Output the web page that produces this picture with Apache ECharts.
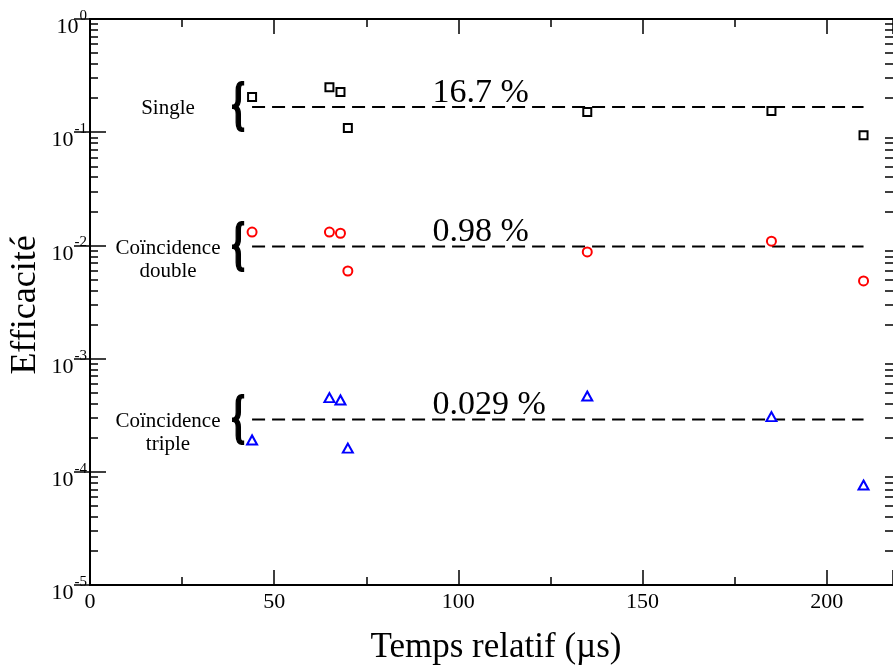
<!DOCTYPE html>
<html>
<head>
<meta charset="utf-8">
<script src="https://cdn.jsdelivr.net/npm/echarts@6/dist/echarts.min.js"></script>
<style>html,body{margin:0;padding:0;background:#fff;}#c{width:893px;height:670px;}</style>
</head>
<body>
<div id="c"></div>
<script>
const times = [44, 65, 68, 70, 135, 185, 210];
const single = [0.205, 0.25, 0.226, 0.109, 0.151, 0.154, 0.094];
const double = [0.0131, 0.0131, 0.0128, 0.00594, 0.00875, 0.0109, 0.00485];
const triple = [1.91e-4, 4.52e-4, 4.31e-4, 1.62e-4, 4.67e-4, 3.07e-4, 7.64e-5];
const means = [0.167, 0.0098, 0.00029];
const meanLabels = ['16.7 %', '0.98 %', '0.029 %'];
const meanRange = [44, 210];
const groupLabels = ['Single', 'Coïncidence\ndouble', 'Coïncidence\ntriple'];
const xTicks = [0, 50, 100, 150, 200];
const minorY = [];
for (let e = -5; e < 0; e++) for (let m = 2; m <= 9; m++) minorY.push(+(m * Math.pow(10, e)).toPrecision(3));

const FONT = '"Liberation Serif", "Times New Roman", serif';
const chart = echarts.init(document.getElementById('c'));

const pts = arr => times.map((t, i) => [t, arr[i]]);
const line = v => meanRange.map(x => [x, v]);

const baseY = {
  type: 'log', logBase: 10, min: 1e-5, max: 1, interval: 1,
  splitLine: { show: false },
  axisLine: { show: true, lineStyle: { color: '#000', width: 2 } },
  axisTick: { show: true, inside: true, length: 16, lineStyle: { color: '#000', width: 1.5 } },
  axisLabel: { show: false },
  minorTick: { show: false }
};
const minorYAxis = (pos) => Object.assign({}, baseY, {
  position: pos,
  axisLine: { show: false },
  axisTick: { show: true, inside: true, length: 8, customValues: minorY, lineStyle: { color: '#000', width: 1.5 } },
  axisLabel: { show: false }
});

const option = {
  animation: false,
  grid: { left: 90, right: 0, top: 19, bottom: 85, containLabel: false },
  xAxis: [
    {
      type: 'value', min: 0, max: 218, interval: 50, position: 'bottom',
      splitLine: { show: false },
      axisLine: { show: true, onZero: false, lineStyle: { color: '#000', width: 2 } },
      axisTick: { show: true, inside: true, length: 15, lineStyle: { color: '#000', width: 1.5 } },
      minorTick: { show: true, splitNumber: 2, length: 8, lineStyle: { color: '#000', width: 1.5 } },
      axisLabel: {
        show: true, margin: 6, fontFamily: FONT, fontSize: 22, color: '#000',
        customValues: xTicks, formatter: v => String(v)
      }
    },
    {
      type: 'value', min: 0, max: 218, interval: 50, position: 'top',
      splitLine: { show: false },
      axisLine: { show: true, onZero: false, lineStyle: { color: '#000', width: 2 } },
      axisTick: { show: true, inside: true, length: 15, lineStyle: { color: '#000', width: 1.5 } },
      minorTick: { show: true, splitNumber: 2, length: 8, lineStyle: { color: '#000', width: 1.5 } },
      axisLabel: { show: false }
    }
  ],
  yAxis: [
    Object.assign({}, baseY, {
      position: 'left',
      axisLabel: {
        show: true, margin: 3, color: '#000',
        formatter: v => '{b|10}{s|' + Math.round(Math.log10(v)) + '}',
        rich: {
          b: { fontFamily: FONT, fontSize: 22, color: '#000', padding: [17, 0, 0, 0] },
          s: { fontFamily: FONT, fontSize: 15, color: '#000', verticalAlign: 'top', padding: [9, 0, 0, 1] }
        }
      }
    }),
    Object.assign({}, baseY, { position: 'right' }),
    minorYAxis('left'),
    minorYAxis('right')
  ],
  series: [
    { type: 'line', data: line(means[0]), symbol: 'none', lineStyle: { color: '#000', width: 2, type: [13, 7] }, z: 1 },
    { type: 'line', data: line(means[1]), symbol: 'none', lineStyle: { color: '#000', width: 2, type: [13, 7] }, z: 1 },
    { type: 'line', data: line(means[2]), symbol: 'none', lineStyle: { color: '#000', width: 2, type: [13, 7] }, z: 1 },
    { type: 'scatter', data: pts(single), symbol: 'rect', symbolSize: 8, itemStyle: { color: '#fff', borderColor: '#000', borderWidth: 2, opacity: 1 }, z: 3 },
    { type: 'scatter', data: pts(double), symbol: 'circle', symbolSize: 9, itemStyle: { color: '#fff', borderColor: '#f00', borderWidth: 2, opacity: 1 }, z: 3 },
    { type: 'scatter', data: pts(triple), symbol: 'triangle', symbolSize: [10, 9], itemStyle: { color: '#fff', borderColor: '#00f', borderWidth: 2, opacity: 1 }, z: 3 }
  ]
};
chart.setOption(option);

// Annotations positioned from the axis scales
const g = [];
means.forEach((m, i) => {
  const p = chart.convertToPixel({ xAxisIndex: 0, yAxisIndex: 0 }, [93, m]);
  g.push({ type: 'text', x: p[0], y: p[1] - 14, z: 10,
    style: { text: meanLabels[i], font: '34px ' + FONT, fill: '#000', textAlign: 'left', textVerticalAlign: 'middle' } });
  const b = chart.convertToPixel({ xAxisIndex: 0, yAxisIndex: 0 }, [40.2, m]);
  g.push({ type: 'text', x: b[0], y: b[1] + 1, scaleY: 1.75, z: 10,
    style: { text: '{', font: 'bold 34px ' + FONT, fill: '#000', stroke: '#000', lineWidth: 1.2, textAlign: 'center', textVerticalAlign: 'middle' } });
  const lines = groupLabels[i].split('\n');
  lines.forEach((t, k) => {
    g.push({ type: 'text', x: 168, y: b[1] + (i === 0 ? 1 : 2) + k * 23, z: 10,
      style: { text: t, font: '21px ' + FONT, fill: '#000', textAlign: 'center', textVerticalAlign: 'middle' } });
  });
});
g.push({ type: 'text', x: 26, y: 305, rotation: Math.PI / 2, z: 10,
  style: { text: 'Efficacité', font: '36px ' + FONT, fill: '#000', textAlign: 'center', textVerticalAlign: 'middle' } });
g.push({ type: 'text', x: 496, y: 648, z: 10,
  style: { text: 'Temps relatif (µs)', font: '35px ' + FONT, fill: '#000', textAlign: 'center', textVerticalAlign: 'middle' } });
chart.setOption({ graphic: g });
</script>
</body>
</html>
